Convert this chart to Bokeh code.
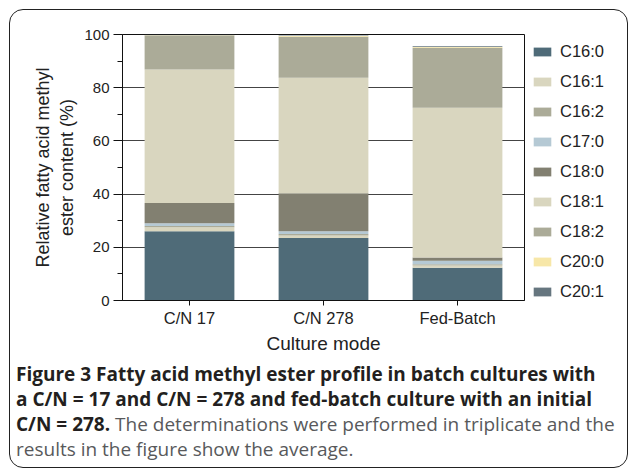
from bokeh.plotting import figure
from bokeh.layouts import column
from bokeh.models import (FactorRange, Range1d, Legend, LegendItem, Div,
                          InlineStyleSheet, FixedTicker)
from bokeh.embed import file_html
from bokeh.resources import INLINE

categories = ["C/N 17", "C/N 278", "Fed-Batch"]
acids = ["C16:0", "C16:1", "C16:2", "C17:0", "C18:0", "C18:1", "C18:2", "C20:0", "C20:1"]
C16_0 = [26.0, 23.5, 12.3]
C16_1 = [1.5, 0.9, 0.9]
C16_2 = [0.5, 0.6, 0.4]
C17_0 = [1.0, 1.0, 1.3]
C18_0 = [7.7, 14.3, 1.3]
C18_1 = [50.1, 43.4, 56.3]
C18_2 = [12.7, 15.5, 22.5]
C20_0 = [0.2, 0.2, 0.3]
C20_1 = [0.2, 0.2, 0.3]
colors = ["#4f6b78", "#d9d6bf", "#abab98", "#b5c9d4", "#828071",
          "#d9d6bf", "#abab98", "#f7e7a8", "#66767f"]
y_ticks = [0, 20, 40, 60, 80, 100]

caption_bold = ["Figure 3 Fatty acid methyl ester profile in batch cultures with",
                "a C/N = 17 and C/N = 278 and fed-batch culture with an initial",
                "C/N = 278."]
caption_regular = ["The determinations were performed in triplicate and the",
                   "results in the figure show the average."]

data = {"cat": categories}
series = [C16_0, C16_1, C16_2, C17_0, C18_0, C18_1, C18_2, C20_0, C20_1]
for name, vals in zip(acids, series):
    data[name] = vals

FONT = "Liberation Sans"
W = 629
H_MAIN = 367
H_CAP = 474 - H_MAIN

p = figure(x_range=FactorRange(factors=categories), y_range=Range1d(0, 100),
           frame_width=402, frame_height=266,
           output_backend="svg", toolbar_location=None,
           min_border_left=122, min_border_right=105, min_border_top=34,
           min_border_bottom=67, margin=0)

rs = p.vbar_stack(acids, x="cat", width=0.67, source=data, color=colors, line_color=None)

p.outline_line_color = "#111"
p.outline_line_width = 1
p.xgrid.grid_line_color = None
p.ygrid.grid_line_color = "#444"
p.ygrid.grid_line_width = 1
p.ygrid.level = "underlay"

p.yaxis.ticker = FixedTicker(ticks=y_ticks, minor_ticks=[10, 30, 50, 70, 90])
p.yaxis.major_tick_in = 0
p.yaxis.major_tick_out = 9
p.yaxis.minor_tick_in = 0
p.yaxis.minor_tick_out = 5
p.yaxis.major_label_standoff = 4
p.yaxis.major_label_text_font = FONT
p.yaxis.major_label_text_font_size = "15px"
p.yaxis.major_label_text_color = "#222"
p.yaxis.axis_line_color = "#111"
p.yaxis.major_tick_line_color = "#111"
p.yaxis.minor_tick_line_color = "#111"
p.yaxis.axis_label = "Relative fatty acid methyl\nester content (%)"
p.yaxis.axis_label_text_font = FONT
p.yaxis.axis_label_text_font_size = "18px"
p.yaxis.axis_label_text_font_style = "normal"
p.yaxis.axis_label_text_color = "#222"
p.yaxis.axis_label_standoff = 4

p.xaxis.major_tick_in = 0
p.xaxis.major_tick_out = 5
p.xaxis.axis_line_color = "#111"
p.xaxis.major_tick_line_color = "#111"
p.xaxis.major_label_text_font = FONT
p.xaxis.major_label_text_font_size = "16.5px"
p.xaxis.major_label_text_color = "#222"
p.xaxis.major_label_standoff = 3
p.xaxis.axis_label = "Culture mode"
p.xaxis.axis_label_text_font = FONT
p.xaxis.axis_label_text_font_size = "19px"
p.xaxis.axis_label_text_font_style = "normal"
p.xaxis.axis_label_text_color = "#222"
p.xaxis.axis_label_standoff = 3

items = [LegendItem(label=a, renderers=[r]) for a, r in zip(acids, rs)]
legend = Legend(items=items, location="top_left", orientation="vertical",
                glyph_width=22, glyph_height=11, label_height=20, spacing=10,
                label_standoff=7, padding=0, margin=7,
                border_line_color=None, background_fill_alpha=0,
                label_text_font=FONT, label_text_font_size="16.5px",
                label_text_color="#222")
p.add_layout(legend, "right")

b = '<b style="color:#231f20;font-weight:700">'
r = '<span style="color:#58595b;font-weight:400">'
html = (
    '<div style="position:absolute;left:16px;top:-4.9px;white-space:nowrap;'
    'font-family:\'Open Sans\';font-size:19px;line-height:25px;">'
    + b + caption_bold[0] + '</b><br>'
    + b + caption_bold[1] + '</b><br>'
    + b + caption_bold[2] + '</b> ' + r + caption_regular[0] + '</span><br>'
    + r + caption_regular[1] + '</span></div>'
)
cap = Div(text=html, width=W, height=H_CAP, margin=0,
          styles={"position": "relative", "overflow": "visible"})

lay = column(p, cap, spacing=0, margin=0)
lay.stylesheets = [InlineStyleSheet(css=(
    ":host { position: relative; }"
    ":host::after { content: ''; position: absolute; left: 9px; top: 9px; "
    "width: 619px; height: 459px; border: 1.3px solid #222; border-radius: 14px; "
    "pointer-events: none; z-index: 50; box-sizing: border-box; }"))]

open("out.html", "w").write(file_html(lay, INLINE))
